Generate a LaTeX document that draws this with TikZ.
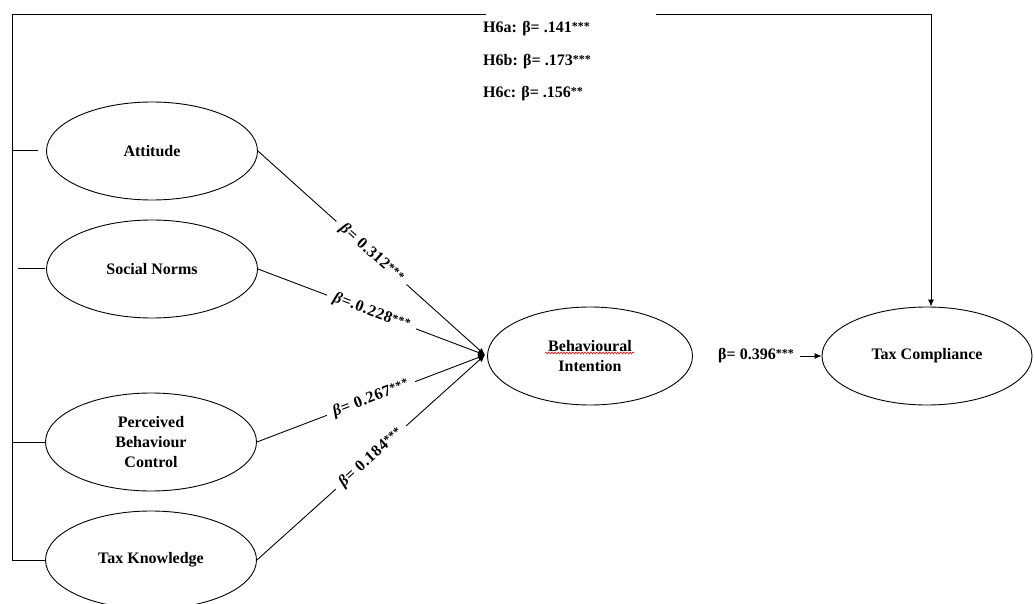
\documentclass[tikz,border=0pt]{standalone}
\usepackage{fontspec}
\setmainfont{Liberation Serif}
\newfontfamily\lblfont[LetterSpace=4]{Liberation Serif}
\usetikzlibrary{shapes.geometric,arrows.meta,decorations.pathmorphing}
\newcommand{\mystars}[1]{\raisebox{0.3ex}{\fontsize{12}{12}\selectfont #1}}
\begin{document}
\begin{tikzpicture}[x=1pt,y=-1pt,
  lat/.style={ellipse, draw, line width=0.9pt, minimum width=211pt, minimum height=98pt,
    align=center, font=\fontsize{16}{20}\selectfont\bfseries, inner sep=0pt},
  lbl/.style={font=\fontsize{16}{18}\selectfont\bfseries, inner sep=2pt, fill=white},
  plbl/.style={font=\lblfont\fontsize{16}{18}\selectfont\bfseries, inner ysep=2pt, inner xsep=7pt, fill=white},
  htxt/.style={font=\fontsize{16}{18}\selectfont\bfseries, inner sep=0pt, anchor=west},
  con/.style={line width=0.9pt},
  arr/.style={con, -{Latex[length=7pt,width=6pt]}}]
\useasboundingbox (0,0) rectangle (1034,604);

% latent variables
\node[lat] (att) at (152,151) {Attitude};
\node[lat] (sn)  at (152,269) {Social Norms};
\node[lat] (pbc) at (151,442) {Perceived\\Behaviour\\Control};
\node[lat] (tk)  at (151,560) {Tax Knowledge};
\node[lat, minimum width=205pt] (bi) at (590,356) {Behavioural\\Intention};
\node[lat, minimum width=210pt] (tc) at (927,356) {Tax Compliance};

% spell-check underline
\draw[red, line width=0.6pt, decorate, decoration={snake, amplitude=0.9pt, segment length=3pt}]
  (545,353) -- (634,353);

% H6 labels
\node[htxt] (h6a) at (483,29) {H6a: β= .141\mystars{***}};
\node[htxt] (h6b) at (483,62) {H6b: β= .173\mystars{***}};
\node[htxt] (h6c) at (483,94) {H6c: β= .156\mystars{**}};

% left frame and direct path
\coordinate (tl) at (12,14);
\coordinate (topgapL) at (486,14);
\coordinate (topgapR) at (656,14);
\coordinate (tr) at (931,14);
\coordinate (bl) at (12,560);
\coordinate (sattL) at (12,150);
\coordinate (sattR) at (38,150);
\coordinate (ssnL) at (18,268);
\coordinate (ssnR) at (45,268);
\coordinate (spbc) at (12,442);
\draw[con] (topgapL) -- (tl) -- (bl) -- (tk.west);
\draw[con] (sattL) -- (sattR);
\draw[con] (ssnL) -- (ssnR);
\draw[con] (spbc) -- (pbc.west);
\draw[arr] (topgapR) -- (tr) -- (tr |- tc.north);

% paths to behavioural intention
\coordinate (conv) at (485,355);
\draw[arr] (att.east) -- node[plbl, sloped, midway] {\textit{β}= 0.312\mystars{***}} (conv);
\draw[arr] (sn.east)  -- node[plbl, sloped, midway] {\textit{β}=.0.228\mystars{***}} (conv);
\draw[arr] (pbc.east) -- node[plbl, sloped, midway] {\textit{β}= 0.267\mystars{***}} (conv);
\draw[arr] (tk.east)  -- node[plbl, sloped, midway] {\textit{β}= 0.184\mystars{***}} (conv);

% behavioural intention to tax compliance
\node[lbl] (b7) at (756,356) {β= 0.396\mystars{***}};
\draw[arr] ([xshift=4pt]b7.east) -- (tc.west);
\end{tikzpicture}
\end{document}
